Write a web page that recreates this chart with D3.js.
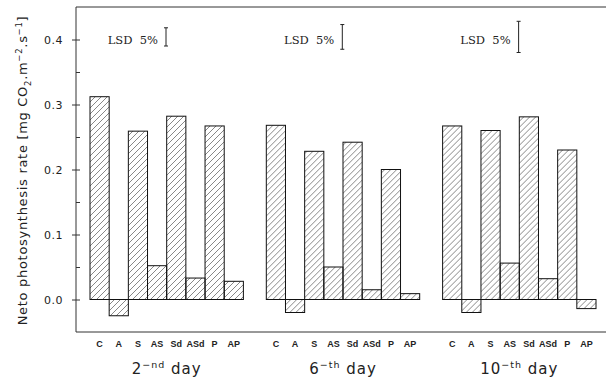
<!DOCTYPE html>
<html>
<head>
<meta charset="utf-8">
<script src="https://cdn.jsdelivr.net/npm/d3@7"></script>
<style>
  body{margin:0;background:#fff}
  svg{display:block}
  text{fill:#222}
</style>
</head>
<body>
<div id="graph"></div>
<script>
// data
const categories=["C","A","S","AS","Sd","ASd","P","AP"]
const days=["2","6","10"]
const daySuffix=["\u2212nd","\u2212th","\u2212th"]
const day2=[0.312,-0.025,0.259,0.052,0.282,0.033,0.267,0.028]
const day6=[0.268,-0.020,0.228,0.050,0.242,0.015,0.200,0.009]
const day10=[0.267,-0.020,0.260,0.056,0.281,0.032,0.230,-0.014]
const lsd=[0.028,0.038,0.048]
const lsdCenter=0.404
const yMajor=[0.0,0.1,0.2,0.3,0.4]
const yMinor=[0.05,0.15,0.25,0.35]

const series=[day2,day6,day10]

let width=607, height=382
let svg=d3.select("#graph").append("svg")
  .attr("width",width).attr("height",height)

// hatch pattern
svg.append("defs").append("pattern")
  .attr("id","hatch").attr("patternUnits","userSpaceOnUse")
  .attr("width",6).attr("height",6)
  .append("path")
  .attr("d","M0,6 L6,0 M-1,1 L1,-1 M5,7 L7,5")
  .attr("stroke","#555").attr("stroke-width",0.7)

// scales
let yScale=d3.scaleLinear().domain([-0.05,0.45]).range([332,7])
let x0=d3.scaleBand().domain(days).range([90,596]).paddingInner(0.13)
let x1=d3.scaleBand().domain(categories).range([0,x0.bandwidth()])

// frame
let left=76, right=606
svg.append("path")
  .attr("d",`M${right},${yScale(0.45)} H${left} V${yScale(-0.05)} H${right}`)
  .attr("fill","none").attr("stroke","#333").attr("stroke-width",1)

// y axis, ticks crossing the frame
let yAxis=d3.axisLeft(yScale).tickValues(yMajor).tickSize(4).tickPadding(9)
  .tickFormat(d3.format(".1f"))
let ga=svg.append("g").attr("transform",`translate(${left},0)`).call(yAxis)
ga.select(".domain").remove()
ga.selectAll("text").style("font-family","DejaVu Sans").style("font-size","11px")
  .style("letter-spacing","0.5px").attr("fill","#333")
ga.selectAll("line").attr("stroke","#333")

let gi=svg.append("g").attr("transform",`translate(${left},0)`)
  .call(d3.axisRight(yScale).tickValues(yMajor.concat(yMinor)).tickSize(4).tickFormat(""))
gi.select(".domain").remove()
gi.selectAll("line").attr("stroke","#333")

// y title
let title=svg.append("text")
  .attr("transform",`translate(27,${yScale(0.2)+1}) rotate(-90)`)
  .attr("text-anchor","middle")
  .style("font-family","DejaVu Sans").style("font-size","13px")
  .style("letter-spacing","0.7px")
title.append("tspan").text("Neto photosynthesis rate [mg CO")
title.append("tspan").attr("dy",4).style("font-size","8.5px").text("2")
title.append("tspan").attr("dy",-4).text(".m")
title.append("tspan").attr("dy",-5).style("font-size","8.5px").text("\u22122")
title.append("tspan").attr("dy",5).text(".s")
title.append("tspan").attr("dy",-5).style("font-size","8.5px").text("\u22121")
title.append("tspan").attr("dy",5).text("]")

// bars
let groups=svg.selectAll("g.day").data(days).enter().append("g")
  .attr("class","day")
  .attr("transform",d=>`translate(${x0(d)},0)`)

groups.selectAll("rect")
  .data((d,i)=>series[i].map((v,j)=>({cat:categories[j],v:v})))
  .enter().append("rect")
  .attr("x",d=>x1(d.cat))
  .attr("width",x1.bandwidth())
  .attr("y",d=>yScale(Math.max(0,d.v)))
  .attr("height",d=>Math.abs(yScale(d.v)-yScale(0)))
  .attr("fill","url(#hatch)")
  .attr("stroke","#111").attr("stroke-width",1)

// category labels
groups.selectAll("text.cat")
  .data(categories).enter().append("text")
  .attr("class","cat")
  .attr("x",d=>x1(d)+x1.bandwidth()/2)
  .attr("y",347)
  .attr("text-anchor","middle")
  .style("font-family","Liberation Sans").style("font-size","9px")
  .style("font-weight","bold")
  .text(d=>d)

// day labels
let dl=groups.append("text")
  .attr("x",x0.bandwidth()/2).attr("y",374)
  .attr("text-anchor","middle")
  .style("font-family","DejaVu Sans").style("font-size","15px")
  .style("letter-spacing","1px")
dl.append("tspan").text(d=>d)
dl.append("tspan").attr("dy",-6).style("font-size","9.5px").text((d,i)=>daySuffix[i])
dl.append("tspan").attr("dy",6).text(" day")

// LSD markers
groups.append("text")
  .attr("x",68).attr("y",yScale(0.4)+4)
  .attr("text-anchor","end")
  .attr("xml:space","preserve")
  .style("font-family","DejaVu Serif").style("font-size","11.5px")
  .text("LSD  5%")

groups.append("path")
  .attr("d",(d,i)=>{
    let t=yScale(lsdCenter+lsd[i]/2), b=yScale(lsdCenter-lsd[i]/2)
    return `M74,${t} H78 M76,${t} V${b} M74,${b} H78`
  })
  .attr("fill","none").attr("stroke","#222").attr("stroke-width",1)
</script>
</body>
</html>
